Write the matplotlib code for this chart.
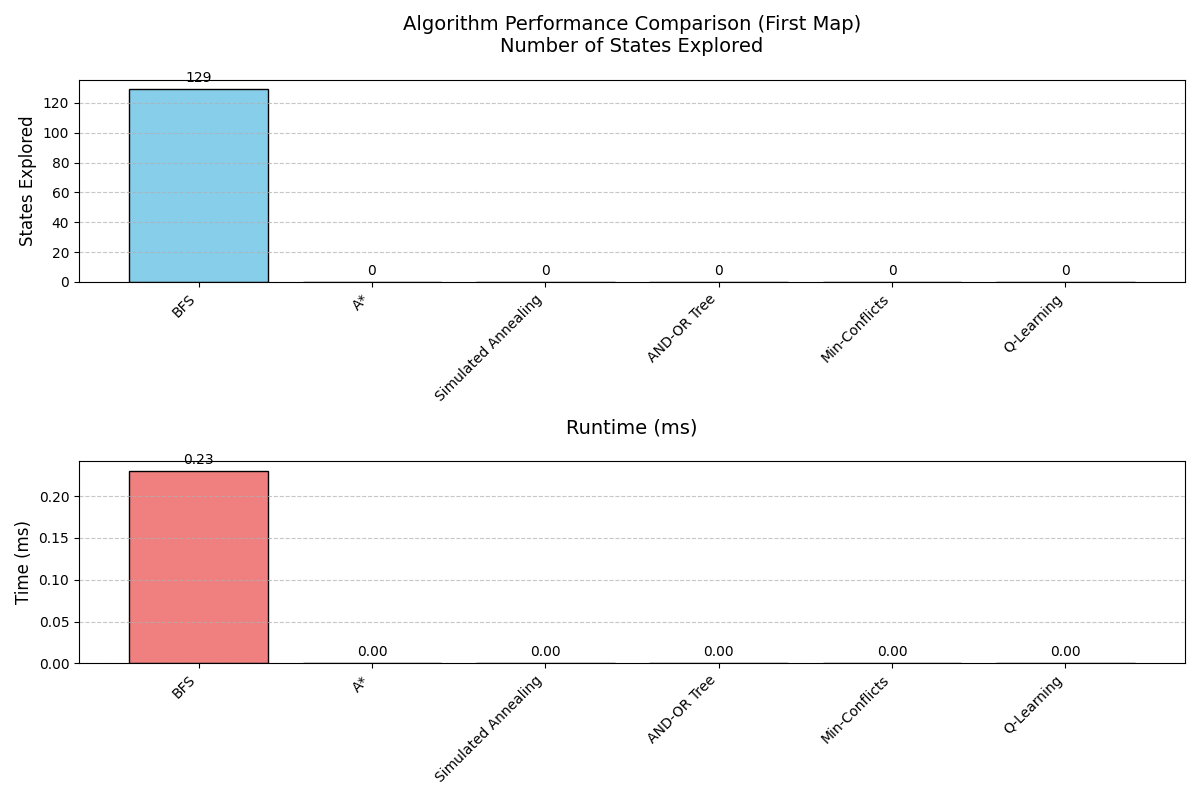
import matplotlib
matplotlib.use('Agg')
import matplotlib.pyplot as plt

algorithms = ['BFS', 'A*', 'Simulated Annealing', 'AND-OR Tree', 'Min-Conflicts', 'Q-Learning']
states_explored = [129, 0, 0, 0, 0, 0]
runtimes_ms = [0.23, 0.0, 0.0, 0.0, 0.0, 0.0]

fig, (ax1, ax2) = plt.subplots(2, 1, figsize=(12, 8))

# States explored
bars = ax1.bar(algorithms, states_explored, color='skyblue', edgecolor='black')
ax1.set_title('Algorithm Performance Comparison (First Map)\nNumber of States Explored', fontsize=14, pad=20)
ax1.set_ylabel('States Explored', fontsize=12)
ax1.grid(axis='y', linestyle='--', alpha=0.7)
for bar in bars:
    h = bar.get_height()
    ax1.annotate(f'{int(h)}', (bar.get_x() + bar.get_width() / 2, h),
                 xytext=(0, 3), textcoords='offset points', ha='center', va='bottom')
plt.setp(ax1.get_xticklabels(), rotation=45, ha='right')

# Runtime
bars = ax2.bar(algorithms, runtimes_ms, color='lightcoral', edgecolor='black')
ax2.set_title('Runtime (ms)', fontsize=14, pad=20)
ax2.set_ylabel('Time (ms)', fontsize=12)
ax2.grid(axis='y', linestyle='--', alpha=0.7)
for bar in bars:
    h = bar.get_height()
    ax2.annotate(f'{h:.2f}', (bar.get_x() + bar.get_width() / 2, h),
                 xytext=(0, 3), textcoords='offset points', ha='center', va='bottom')
plt.setp(ax2.get_xticklabels(), rotation=45, ha='right')

plt.tight_layout()
plt.savefig('out.png', dpi=100)
